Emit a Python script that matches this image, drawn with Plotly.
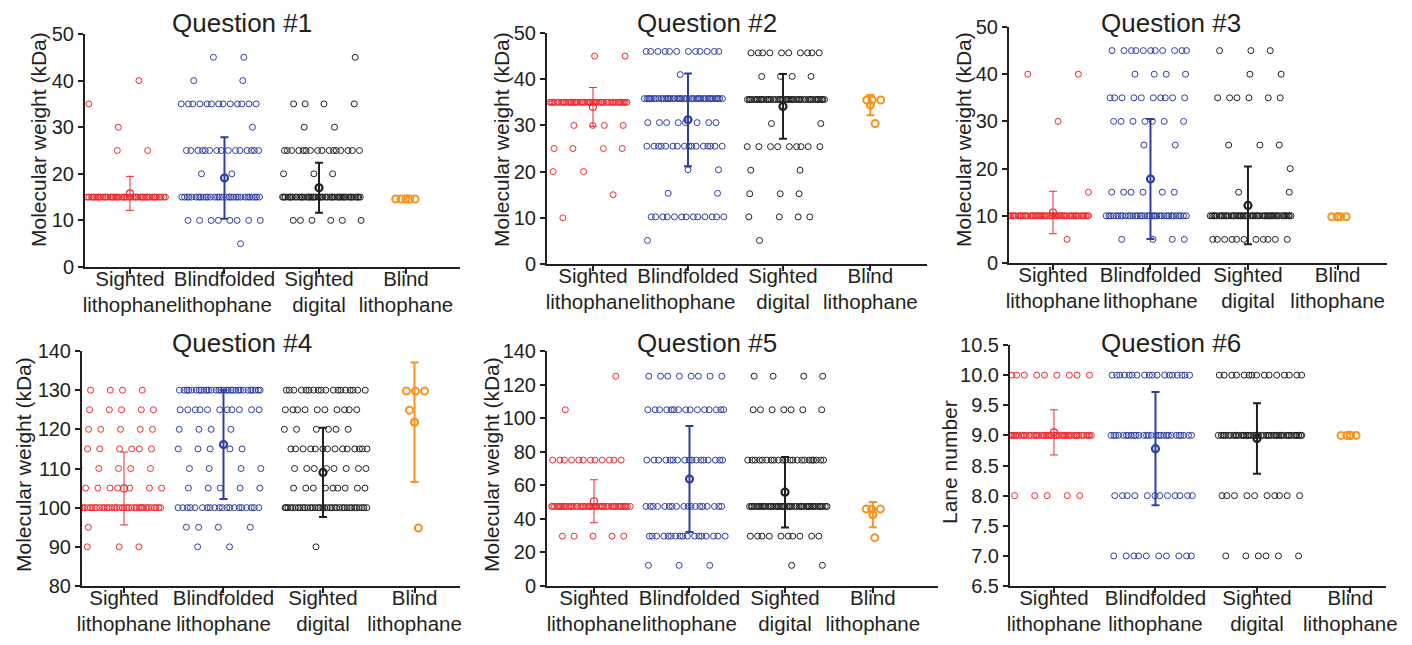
import plotly.graph_objects as go

W, H = 1412, 645
OFF = 8  # page body margin offset of the rendered figure

group_labels = ["Sighted<br>lithophane", "Blindfolded<br>lithophane",
                "Sighted<br>digital", "Blind<br>lithophane"]
group_colors = ["#EE2A2F", "#2E3F9F", "#231F20", "#F7941D"]
category_pos = [0, 1, 2, 2.92]

# ---- data: answer value -> number of participants, per group ----
q1_sighted_litho = {40: 1, 35: 1, 30: 1, 25: 2, 15: 45}
q1_blindfold_litho = {45: 2, 40: 2, 35: 13, 30: 1, 25: 15, 20: 2, 15: 30, 10: 8, 5: 1}
q1_sighted_digital = {45: 1, 35: 4, 30: 2, 25: 16, 20: 3, 15: 45, 10: 6}
q1_blind_litho = {14.6: 4}
q1_means = [15.8, 19.1, 17.0, 14.6]
q1_sds = [3.65, 8.75, 5.35, 0.0]

q2_sighted_litho = {45: 2, 35: 45, 30: 4, 25: 4, 20: 2, 15: 1, 10: 1}
q2_blindfold_litho = {46: 12, 41: 1, 35.8: 40, 30.6: 8, 25.5: 16, 20.4: 2, 15.3: 2, 10.2: 13, 5.1: 1}
q2_sighted_digital = {45.7: 10, 40.6: 4, 35.6: 45, 30.4: 2, 25.4: 9, 20.3: 2, 15.2: 3, 10.2: 4, 5.1: 1}
q2_blind_litho = {35.5: 3, 30.4: 1}
q2_means = [34.0, 31.2, 34.1, 34.4]
q2_sds = [4.2, 10.05, 7.0, 2.2]

q3_sighted_litho = {40: 2, 30: 1, 15: 1, 10: 50, 5: 1}
q3_blindfold_litho = {45: 11, 40: 4, 35: 10, 30: 7, 25: 2, 15: 6, 10: 35, 5: 4}
q3_sighted_digital = {45: 3, 40: 2, 35: 6, 25: 3, 20: 1, 15: 2, 10: 50, 5: 11}
q3_blind_litho = {9.8: 4}
q3_means = [10.7, 17.8, 12.2, 9.8]
q3_sds = [4.5, 12.7, 8.25, 0.0]

q4_sighted_litho = {130: 5, 125: 5, 120: 5, 115: 6, 110: 5, 105: 7, 100: 35, 95: 1, 90: 3}
q4_blindfold_litho = {130: 30, 125: 11, 120: 4, 115: 5, 110: 4, 105: 5, 100: 20, 95: 4, 90: 2}
q4_sighted_digital = {130: 18, 125: 10, 120: 6, 115: 14, 110: 8, 105: 9, 100: 35, 90: 1}
q4_blind_litho = {129.8: 3, 124.9: 1, 94.8: 1}
q4_means = [104.9, 116.1, 109.0, 121.8]
q4_sds = [9.3, 13.9, 11.4, 15.25]

q5_sighted_litho = {125: 1, 105: 1, 75: 12, 47.4: 45, 29.7: 5}
q5_blindfold_litho = {125: 8, 105: 15, 75: 17, 47.4: 18, 29.7: 17, 12.3: 3}
q5_sighted_digital = {125: 4, 105: 7, 75: 22, 47.4: 45, 29.7: 10, 12.3: 2}
q5_blind_litho = {45.8: 3, 28.8: 1}
q5_means = [50.5, 63.7, 55.9, 42.5]
q5_sds = [12.8, 31.6, 21.0, 7.55]

q6_sighted_litho = {10: 9, 9: 45, 8: 5}
q6_blindfold_litho = {10: 18, 9: 28, 8: 12, 7: 10}
q6_sighted_digital = {10: 15, 9: 45, 8: 10, 7: 6}
q6_blind_litho = {9: 4}
q6_means = [9.05, 8.78, 8.95, 9.0]
q6_sds = [0.375, 0.94, 0.585, 0.0]

questions = [
    ("Question #1", "Molecular weight (kDa)",
     [q1_sighted_litho, q1_blindfold_litho, q1_sighted_digital, q1_blind_litho], q1_means, q1_sds),
    ("Question #2", "Molecular weight (kDa)",
     [q2_sighted_litho, q2_blindfold_litho, q2_sighted_digital, q2_blind_litho], q2_means, q2_sds),
    ("Question #3", "Molecular weight (kDa)",
     [q3_sighted_litho, q3_blindfold_litho, q3_sighted_digital, q3_blind_litho], q3_means, q3_sds),
    ("Question #4", "Molecular weight (kDa)",
     [q4_sighted_litho, q4_blindfold_litho, q4_sighted_digital, q4_blind_litho], q4_means, q4_sds),
    ("Question #5", "Molecular weight (kDa)",
     [q5_sighted_litho, q5_blindfold_litho, q5_sighted_digital, q5_blind_litho], q5_means, q5_sds),
    ("Question #6", "Lane number",
     [q6_sighted_litho, q6_blindfold_litho, q6_sighted_digital, q6_blind_litho], q6_means, q6_sds),
]

# ---- layout of the six panels (pixel boxes in the screenshot) ----
panels = [
    dict(px=(85, 460), py=(34, 267), xr=(-0.476, 3.492), yr=(0, 50), dtick=10, fmt="",
         title=(242, 23), ytitle=(38, 140)),
    dict(px=(547, 927), py=(33, 264), xr=(-0.484, 3.516), yr=(0, 50), dtick=10, fmt="",
         title=(707, 23), ytitle=(501, 139)),
    dict(px=(1009, 1387), py=(27, 263), xr=(-0.451, 3.426), yr=(0, 50), dtick=10, fmt="",
         title=(1171, 23), ytitle=(963, 140)),
    dict(px=(82, 460), py=(351, 586), xr=(-0.422, 3.377), yr=(80, 140), dtick=10, fmt="",
         title=(242, 343), ytitle=(24, 465)),
    dict(px=(547, 938), py=(351, 586), xr=(-0.492, 3.602), yr=(0, 140), dtick=20, fmt="",
         title=(707, 343), ytitle=(492, 465)),
    dict(px=(1010, 1386), py=(345, 586), xr=(-0.433, 3.271), yr=(6.5, 10.5), dtick=0.5, fmt=".1f",
         title=(1171, 343), ytitle=(949, 462)),
]

group_shift = [-0.04, -0.04, 0.03, 0.0]
group_half = [0.42, 0.42, 0.42, 0.12]
GOLD = 0.6180339887


def spread(n, half, phase):
    return [((phase + k * GOLD) % 1.0 - 0.5) * 2 * half for k in range(n)]


def fx(px):
    return (px - OFF) / W


def fy(py):
    return 1 - (py - OFF) / H


FONT = "Liberation Sans, Arial, Helvetica, sans-serif"
TXT = "#231F20"

fig = go.Figure()
annotations = []
layout = {}

for qi, ((title, ylab, groups, means, sds), p) in enumerate(zip(questions, panels)):
    k = qi + 1
    xa = "x" if k == 1 else f"x{k}"
    ya = "y" if k == 1 else f"y{k}"
    for gi, g in enumerate(groups):
        col = group_colors[gi]
        xs, ys = [], []
        for li, (val, cnt) in enumerate(g.items()):
            phase = (0.37 * (li + 1) + 0.13 * gi + 0.29 * k) % 1.0
            offs = spread(cnt, group_half[gi], phase)
            xs += [category_pos[gi] + group_shift[gi] + o for o in offs]
            ys += [val] * cnt
        orange = gi == 3
        fig.add_trace(go.Scatter(
            x=xs, y=ys, mode="markers", xaxis=xa, yaxis=ya, showlegend=False,
            hoverinfo="skip",
            marker=dict(symbol="circle-open", size=7 if orange else 6, color=col,
                        line=dict(width=2 if orange else 1, color=col))))
    for gi in range(4):
        col = group_colors[gi]
        thin = gi == 0
        fig.add_trace(go.Scatter(
            x=[category_pos[gi]], y=[means[gi]], mode="markers", xaxis=xa, yaxis=ya,
            showlegend=False,
            error_y=dict(type="data", array=[sds[gi]], visible=sds[gi] > 0, color=col,
                         thickness=1 if thin else 2, width=4),
            marker=dict(symbol="circle-open", size=7, color=col,
                        line=dict(width=1.2 if thin else 2.2, color=col))))

    x0, x1 = p["px"]
    y0, y1 = p["py"]
    xkey = "xaxis" if k == 1 else f"xaxis{k}"
    ykey = "yaxis" if k == 1 else f"yaxis{k}"
    layout[xkey] = dict(
        domain=[fx(x0), fx(x1)], range=list(p["xr"]), anchor=ya, automargin=False,
        tickmode="array", tickvals=category_pos, ticktext=group_labels, tickangle=0,
        ticklabelstandoff=-13,
        showline=True, linecolor=TXT, linewidth=2, ticks="outside", ticklen=5,
        tickwidth=2, tickcolor=TXT, showgrid=False, zeroline=False,
        tickfont=dict(family=FONT, size=20.5, color=TXT))
    layout[ykey] = dict(
        domain=[fy(y1), fy(y0)], range=list(p["yr"]), anchor=xa, automargin=False,
        tick0=p["yr"][0], dtick=p["dtick"], tickformat=p["fmt"], tickangle=0,
        showline=True, linecolor=TXT, linewidth=2, ticks="outside", ticklen=5,
        tickwidth=2, tickcolor=TXT, showgrid=False, zeroline=False,
        tickfont=dict(family=FONT, size=20, color=TXT))
    tx, ty = p["title"]
    annotations.append(dict(text=title, x=fx(tx), y=fy(ty), xref="paper", yref="paper",
                            xanchor="center", yanchor="middle", showarrow=False,
                            font=dict(family=FONT, size=26, color=TXT)))
    lx, ly = p["ytitle"]
    annotations.append(dict(text=ylab, x=fx(lx), y=fy(ly), xref="paper", yref="paper",
                            xanchor="center", yanchor="middle", showarrow=False, textangle=-90,
                            font=dict(family=FONT, size=21, color=TXT)))

fig.update_layout(
    width=W, height=H, margin=dict(l=0, r=0, t=0, b=0, pad=0, autoexpand=False),
    paper_bgcolor="white", plot_bgcolor="white",
    annotations=annotations, **layout)

fig.write_html("out.html")
